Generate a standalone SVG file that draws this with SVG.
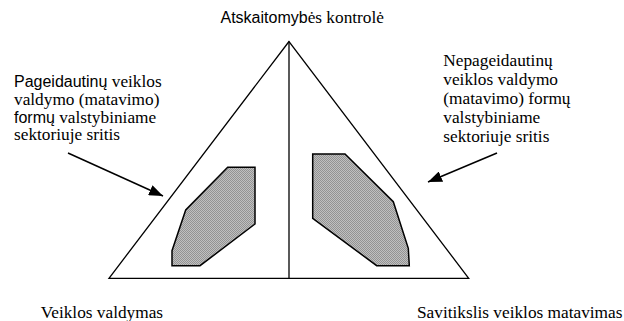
<svg xmlns="http://www.w3.org/2000/svg" width="624" height="321" viewBox="0 0 624 321">
<style>
text{font-family:'Liberation Serif','Times New Roman',serif;font-size:17.3px;fill:#000}
tspan.s{font-family:'Liberation Sans',Arial,sans-serif;font-size:16px}
.line{stroke:#000;stroke-width:1.3;fill:none}
.area{fill:url(#dots);stroke:#000;stroke-width:1.5}
.conn{stroke:#000;stroke-width:1.5;fill:none}
</style>
<defs>
<pattern id="dots" width="2" height="2" patternUnits="userSpaceOnUse">
<rect width="2" height="2" fill="#c0c0c0"/>
<rect width="1" height="1" fill="#939393"/>
<rect x="1" y="1" width="1" height="1" fill="#939393"/>
</pattern>
<marker id="arrow" viewBox="0 0 14 11" refX="14" refY="5.5" markerWidth="14" markerHeight="11" markerUnits="userSpaceOnUse" orient="auto">
<path d="M0,0 L14,5.5 L0,11 Z" fill="#000"/>
</marker>
</defs>
<g id="triangle">
<path class="line" d="M289,41.5 L109,278.3 L468.7,278.3 Z"/>
<line class="line" x1="289" y1="41.5" x2="289" y2="278.3"/>
</g>
<g id="left-region">
<polygon class="area" points="227.7,167.3 255,167.3 255,224 200,265.7 172,265.7 172,250.7 185.7,210"/>
</g>
<g id="right-region">
<polygon class="area" points="312.7,154 345,154 393.3,201.7 408.3,248.3 409.3,265.7 376.7,265.7 312.7,218.3"/>
</g>
<g id="title">
<text x="220.5" y="23"><tspan class="s">Atskaitomyb</tspan>ės kontrolė</text>
</g>
<g id="left-label">
<text x="14" y="87"><tspan class="s">Pageidautinų</tspan> veiklos</text>
<text x="14" y="104.8">valdymo (matavimo)</text>
<text x="14" y="122.5"><tspan class="s">formų</tspan> valstybiniame</text>
<text x="14" y="140">sektoriuje sritis</text>
</g>
<g id="right-label">
<text x="443.3" y="66">Nepageidautinų</text>
<text x="443.3" y="85">veiklos valdymo</text>
<text x="443.3" y="104">(matavimo) formų</text>
<text x="443.3" y="123">valstybiniame</text>
<text x="443.3" y="142">sektoriuje sritis</text>
</g>
<g id="bottom-left-label">
<text x="40.7" y="317.7">Veiklos valdymas</text>
</g>
<g id="bottom-right-label">
<text x="417" y="317.7">Savitikslis veiklos matavimas</text>
</g>
<g id="connectors">
<line class="conn" x1="68" y1="153" x2="163" y2="196" marker-end="url(#arrow)"/>
<line class="conn" x1="497" y1="153" x2="428" y2="182" marker-end="url(#arrow)"/>
</g>
</svg>
